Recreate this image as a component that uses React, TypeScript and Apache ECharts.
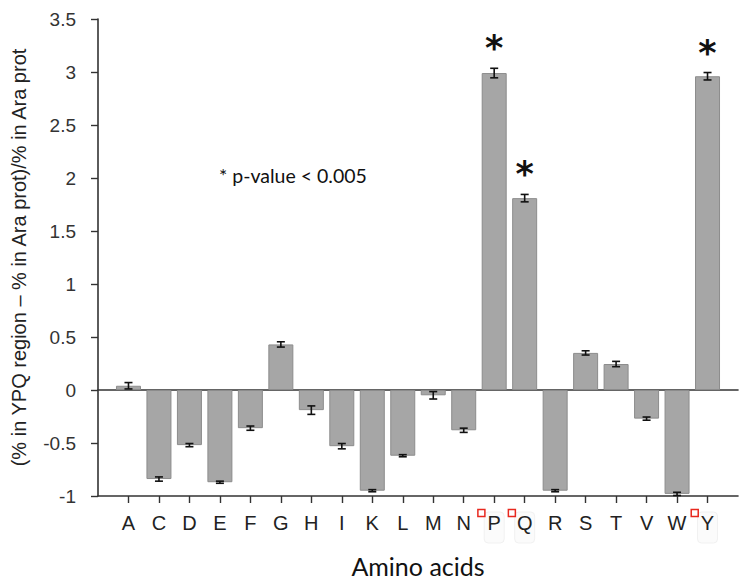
import React, { useEffect, useRef } from 'react';
import * as echarts from 'echarts';

const categories = ['A', 'C', 'D', 'E', 'F', 'G', 'H', 'I', 'K', 'L', 'M', 'N', 'P', 'Q', 'R', 'S', 'T', 'V', 'W', 'Y'];
const values = [0.04, -0.84, -0.52, -0.87, -0.36, 0.43, -0.19, -0.53, -0.95, -0.62, -0.05, -0.38, 2.99, 1.81, -0.95, 0.35, 0.245, -0.27, -0.98, 2.96];
const errors = [0.03, 0.02, 0.015, 0.01, 0.02, 0.025, 0.04, 0.025, 0.01, 0.01, 0.035, 0.02, 0.045, 0.035, 0.01, 0.02, 0.025, 0.015, 0.015, 0.035];
const significant = ['P', 'Q', 'Y'];
const markedLabels = ['P', 'Q', 'Y'];
const yTicks = { min: -1, max: 3.5, interval: 0.5 };
const yAxisName = '(% in YPQ region \u2013 % in Ara prot)/% in Ara prot';
const xAxisName = 'Amino acids';
const noteText = '* p-value < 0.005';

export default function App() {
  const ref = useRef<HTMLDivElement>(null);
  useEffect(() => {
    document.body.style.margin = '0';
    const chart = echarts.init(ref.current!, null, { renderer: 'svg' });
    const idx = categories.map((_, i) => i);
    const axisColor = '#333';
    const option: any = {
      animation: false,
      backgroundColor: '#ffffff',
      grid: { left: 98, right: 4, top: 19, bottom: 87 },
      xAxis: [
        {
          type: 'value',
          min: -1,
          max: 20,
          interval: 1,
          position: 'bottom',
          name: xAxisName,
          nameLocation: 'middle',
          nameGap: 57,
          nameTextStyle: { fontSize: 25, color: '#111', fontFamily: 'Lato' },
          axisLine: { onZero: false, lineStyle: { color: axisColor, width: 1.6 } },
          axisTick: { show: true, customValues: idx, length: 7, lineStyle: { color: axisColor, width: 1.4 } },
          axisLabel: {
            customValues: idx,
            formatter: (v: number) => categories[Math.round(v)] ?? '',
            margin: 17,
            fontSize: 20,
            color: '#222',
            fontFamily: 'Liberation Sans',
          },
          splitLine: { show: false },
        },
        {
          type: 'value',
          min: -1,
          max: 20,
          position: 'top',
          axisLine: { show: true, onZero: true, lineStyle: { color: axisColor, width: 1.6 } },
          axisTick: { show: false },
          axisLabel: { show: false },
          splitLine: { show: false },
        },
      ],
      yAxis: {
        type: 'value',
        min: yTicks.min,
        max: yTicks.max,
        interval: yTicks.interval,
        name: yAxisName,
        nameLocation: 'middle',
        nameGap: 69,
        nameRotate: 90,
        nameTextStyle: { fontSize: 20, color: '#222', fontFamily: 'Liberation Sans' },
        axisLine: { show: true, onZero: false, lineStyle: { color: axisColor, width: 1.6 } },
        axisTick: { show: true, length: 7, lineStyle: { color: axisColor, width: 1.4 } },
        axisLabel: { margin: 22, fontSize: 19, color: '#333', fontFamily: 'Liberation Sans' },
        splitLine: { show: false },
      },
      series: [
        {
          type: 'bar',
          xAxisIndex: 0,
          yAxisIndex: 0,
          barWidth: 25,
          z: 2,
          itemStyle: { color: '#a6a6a6', borderColor: '#8c8c8c', borderWidth: 1 },
          data: categories.map((_, i) => [i, values[i]]),
        },
        {
          type: 'custom',
          xAxisIndex: 0,
          yAxisIndex: 0,
          z: 4,
          data: categories.map((c, i) => [i, values[i], errors[i], significant.includes(c) ? 1 : 0]),
          renderItem: (params: any, api: any) => {
            const i = api.value(0);
            const v = api.value(1);
            const e = api.value(2);
            const sig = api.value(3);
            const x = api.coord([i, v])[0];
            const yTop = api.coord([i, v + e])[1];
            const yBot = api.coord([i, v - e])[1];
            const cap = 4;
            const ls = { stroke: '#111', lineWidth: 1.6 };
            const children: any[] = [
              { type: 'line', shape: { x1: x, y1: yTop, x2: x, y2: yBot }, style: ls },
              { type: 'line', shape: { x1: x - cap, y1: yTop, x2: x + cap, y2: yTop }, style: ls },
              { type: 'line', shape: { x1: x - cap, y1: yBot, x2: x + cap, y2: yBot }, style: ls },
            ];
            if (sig) {
              children.push({
                type: 'text',
                x,
                y: yTop - 20,
                style: {
                  text: '*',
                  fontSize: 35,
                  fontWeight: 'bold',
                  fontFamily: 'DejaVu Sans',
                  fill: '#111',
                  align: 'center',
                  verticalAlign: 'middle',
                },
              });
            }
            return { type: 'group', children };
          },
        },
      ],
      graphic: [
        {
          type: 'text',
          left: 219,
          top: 165,
          style: { text: noteText, fontSize: 19.5, fill: '#111', fontFamily: 'Lato' },
        },
      ],
    };
    chart.setOption(option);

    const graphics: any[] = [];
    const yBase = chart.convertToPixel({ yAxisIndex: 0 }, yTicks.min) as number;
    categories.forEach((c, i) => {
      if (markedLabels.includes(c)) {
        const xc = chart.convertToPixel({ xAxisIndex: 0 }, i) as number;
        const xs = chart.convertToPixel({ xAxisIndex: 0 }, i - 0.42) as number;
        graphics.push({
          type: 'rect',
          z: -10,
          shape: { x: xc - 10, y: yBase + 16, width: 20, height: 31, r: 4 },
          style: { fill: '#fbfbfb', stroke: '#f1f1f1', lineWidth: 1 },
        });
        graphics.push({
          type: 'rect',
          z: 10,
          shape: { x: xs - 3.5, y: yBase + 13.5, width: 7, height: 7 },
          style: { fill: 'none', stroke: '#e8281e', lineWidth: 1.5 },
        });
      }
    });
    chart.setOption({ graphic: [option.graphic[0], ...graphics] }, { replaceMerge: ['graphic'] });

    return () => chart.dispose();
  }, []);
  return <div ref={ref} style={{ width: 742, height: 583 }} />;
}
